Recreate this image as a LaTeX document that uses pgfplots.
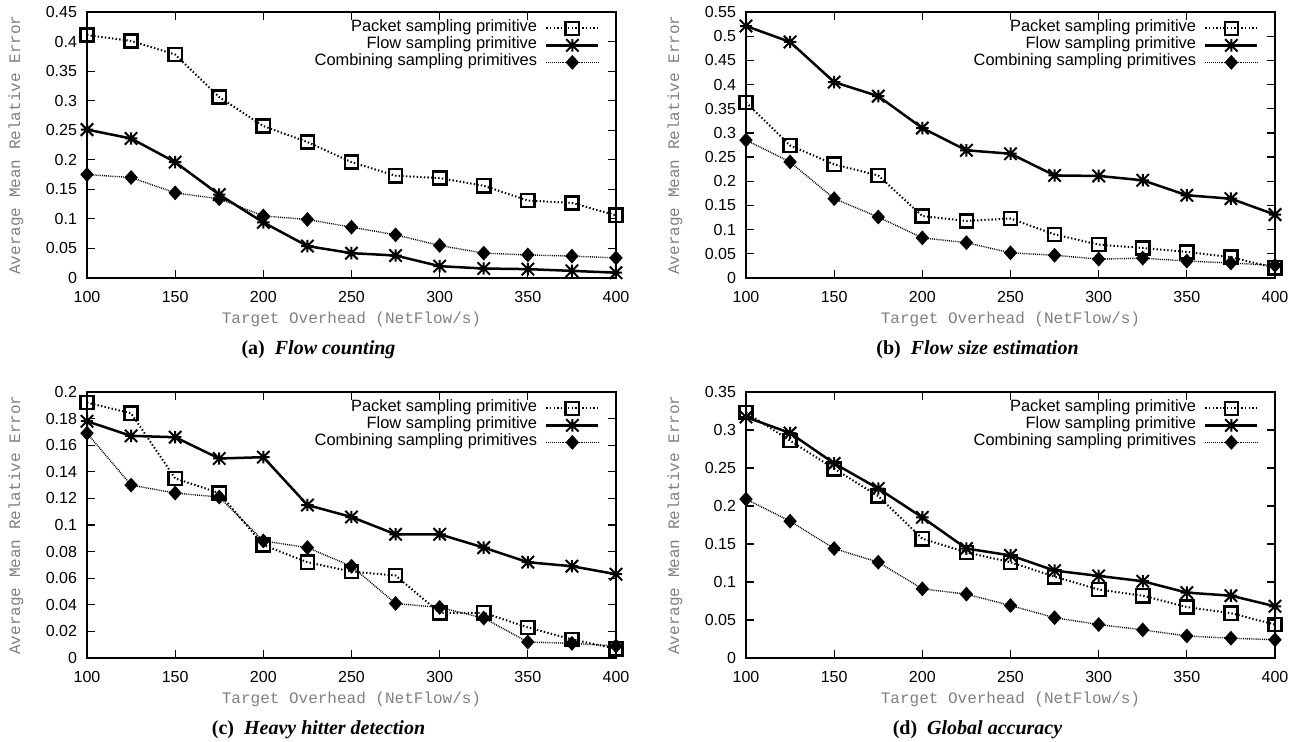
\documentclass[border=0pt]{standalone}
\usepackage{fontspec}
\setmainfont{Liberation Sans}
\newfontfamily\monofont{Liberation Mono}
\newfontfamily\capfont{Liberation Serif}
\usepackage{pgfplots}
\pgfplotsset{compat=1.18}
\usepackage{pgfplotstable}

% gnuplot style star: + and x overlaid
\pgfdeclareplotmark{gpstar}{%
  \pgfpathmoveto{\pgfqpoint{-\pgfplotmarksize}{0pt}}\pgfpathlineto{\pgfqpoint{\pgfplotmarksize}{0pt}}%
  \pgfpathmoveto{\pgfqpoint{0pt}{-\pgfplotmarksize}}\pgfpathlineto{\pgfqpoint{0pt}{\pgfplotmarksize}}%
  \pgfpathmoveto{\pgfqpoint{-\pgfplotmarksize}{-\pgfplotmarksize}}\pgfpathlineto{\pgfqpoint{\pgfplotmarksize}{\pgfplotmarksize}}%
  \pgfpathmoveto{\pgfqpoint{-\pgfplotmarksize}{\pgfplotmarksize}}\pgfpathlineto{\pgfqpoint{\pgfplotmarksize}{-\pgfplotmarksize}}%
  \pgfusepathqstroke}

\definecolor{labelgray}{gray}{0.5}

\pgfplotstableread{
x   pkt   flw   cmb
100 0.411 0.251 0.175
125 0.401 0.236 0.170
150 0.378 0.196 0.144
175 0.306 0.141 0.134
200 0.257 0.094 0.105
225 0.230 0.054 0.099
250 0.196 0.042 0.086
275 0.173 0.038 0.073
300 0.169 0.020 0.055
325 0.156 0.016 0.042
350 0.131 0.015 0.039
375 0.127 0.012 0.037
400 0.106 0.009 0.034
}\tabA

\pgfplotstableread{
x   pkt   flw   cmb
100 0.363 0.521 0.285
125 0.274 0.488 0.240
150 0.235 0.405 0.164
175 0.212 0.376 0.126
200 0.128 0.310 0.083
225 0.118 0.264 0.073
250 0.123 0.257 0.052
275 0.090 0.212 0.047
300 0.069 0.211 0.039
325 0.062 0.202 0.041
350 0.054 0.171 0.035
375 0.043 0.164 0.031
400 0.021 0.131 0.026
}\tabB

\pgfplotstableread{
x   pkt   flw   cmb
100 0.192 0.178 0.169
125 0.184 0.167 0.130
150 0.135 0.166 0.124
175 0.124 0.150 0.121
200 0.085 0.151 0.088
225 0.072 0.115 0.083
250 0.065 0.106 0.069
275 0.062 0.093 0.041
300 0.034 0.093 0.038
325 0.034 0.083 0.030
350 0.023 0.072 0.012
375 0.014 0.069 0.011
400 0.007 0.063 0.009
}\tabC

\pgfplotstableread{
x   pkt   flw   cmb
100 0.323 0.317 0.209
125 0.286 0.296 0.180
150 0.249 0.256 0.144
175 0.213 0.223 0.126
200 0.157 0.185 0.091
225 0.139 0.144 0.084
250 0.126 0.135 0.069
275 0.107 0.115 0.053
300 0.090 0.108 0.044
325 0.082 0.101 0.037
350 0.067 0.086 0.029
375 0.059 0.082 0.026
400 0.044 0.068 0.024
}\tabD

\pgfplotsset{
  gp/.style={
    scale only axis, width=264.5pt, height=133pt,
    xmin=100, xmax=400, ymin=0,
    xtick={100,150,200,250,300,350,400},
    tick align=inside, major tick length=4pt,
    axis line style={line width=0.75pt},
    every tick/.style={black, line width=0.6pt},
    tick label style={font=\fontsize{8}{9}\selectfont},
    /pgf/number format/assume math mode=true,
    yticklabel style={/pgf/number format/fixed, /pgf/number format/precision=2, xshift=-1.5pt},
    xticklabel style={yshift=-3pt},
    scaled y ticks=false,
    legend style={draw=none, fill=none, at={(rel axis cs:1,1)}, anchor=north east,
      xshift=-8pt, yshift=-3.75pt, inner sep=0pt, row sep=0pt, column sep=4pt,
      font=\fontsize{8.2}{9}\selectfont,
      nodes={inner sep=0pt, text height=6pt, text depth=2.5pt}},
    legend cell align=right, legend plot pos=right,
    legend image code/.code={\draw[mark repeat=2,mark phase=2,##1] plot coordinates {(0pt,0pt)(13pt,0pt)(26pt,0pt)};},
  },
  pkt/.style={black, line width=1pt, dash pattern=on 0.7pt off 1.1pt,
    mark=square, mark size=3.3pt, mark options={solid, line width=1.25pt}},
  flw/.style={black, line width=1.25pt, mark=gpstar, mark size=3.1pt,
    mark options={solid, line width=1pt}},
  cmb/.style={black, line width=0.7pt, dash pattern=on 0.45pt off 0.5pt,
    mark=diamond*, mark size=3.2pt, mark options={solid, xscale=1.2}},
}

\newcommand{\threeplots}[1]{%
  \addplot[pkt] table[x=x,y=pkt]{#1};
  \addlegendentry{Packet sampling primitive}
  \addplot[flw] table[x=x,y=flw]{#1};
  \addlegendentry{Flow sampling primitive}
  \addplot[cmb] table[x=x,y=cmb]{#1};
  \addlegendentry{Combining sampling primitives}
}

\newcommand{\labels}[2]{%
  \node[rotate=90, font=\monofont\fontsize{8}{9}\selectfont, text=labelgray] at ([xshift=-35.5pt]#1.west) {Average Mean Relative Error};
  \node[font=\monofont\fontsize{8}{9}\selectfont, text=labelgray] at ([yshift=-20.5pt]#1.south) {Target Overhead (NetFlow/s)};
  \node[font=\capfont\fontsize{10}{12}\selectfont] at ([xshift=-16.5pt,yshift=-36pt]#1.south) {\bfseries #2};
}

\begin{document}
\begin{tikzpicture}
\useasboundingbox (0,0) rectangle (648.5pt,371pt);

\begin{axis}[gp, name=a, at={(43.5pt,232pt)}, anchor=south west, ymax=0.45,
  ytick={0,0.05,0.1,0.15,0.2,0.25,0.3,0.35,0.4,0.45}]
\threeplots{\tabA}
\end{axis}
\labels{a}{(a)\hspace{0.5em}\itshape Flow counting}

\begin{axis}[gp, name=b, at={(373pt,232pt)}, anchor=south west, ymax=0.55,
  ytick={0,0.05,0.1,0.15,0.2,0.25,0.3,0.35,0.4,0.45,0.5,0.55}]
\threeplots{\tabB}
\end{axis}
\labels{b}{(b)\hspace{0.5em}\itshape Flow size estimation}

\begin{axis}[gp, name=c, at={(43.5pt,42pt)}, anchor=south west, ymax=0.2,
  ytick={0,0.02,0.04,0.06,0.08,0.1,0.12,0.14,0.16,0.18,0.2}]
\threeplots{\tabC}
\end{axis}
\labels{c}{(c)\hspace{0.5em}\itshape Heavy hitter detection}

\begin{axis}[gp, name=d, at={(373pt,42pt)}, anchor=south west, ymax=0.35,
  ytick={0,0.05,0.1,0.15,0.2,0.25,0.3,0.35}]
\threeplots{\tabD}
\end{axis}
\labels{d}{(d)\hspace{0.5em}\itshape Global accuracy}
\end{tikzpicture}
\end{document}
